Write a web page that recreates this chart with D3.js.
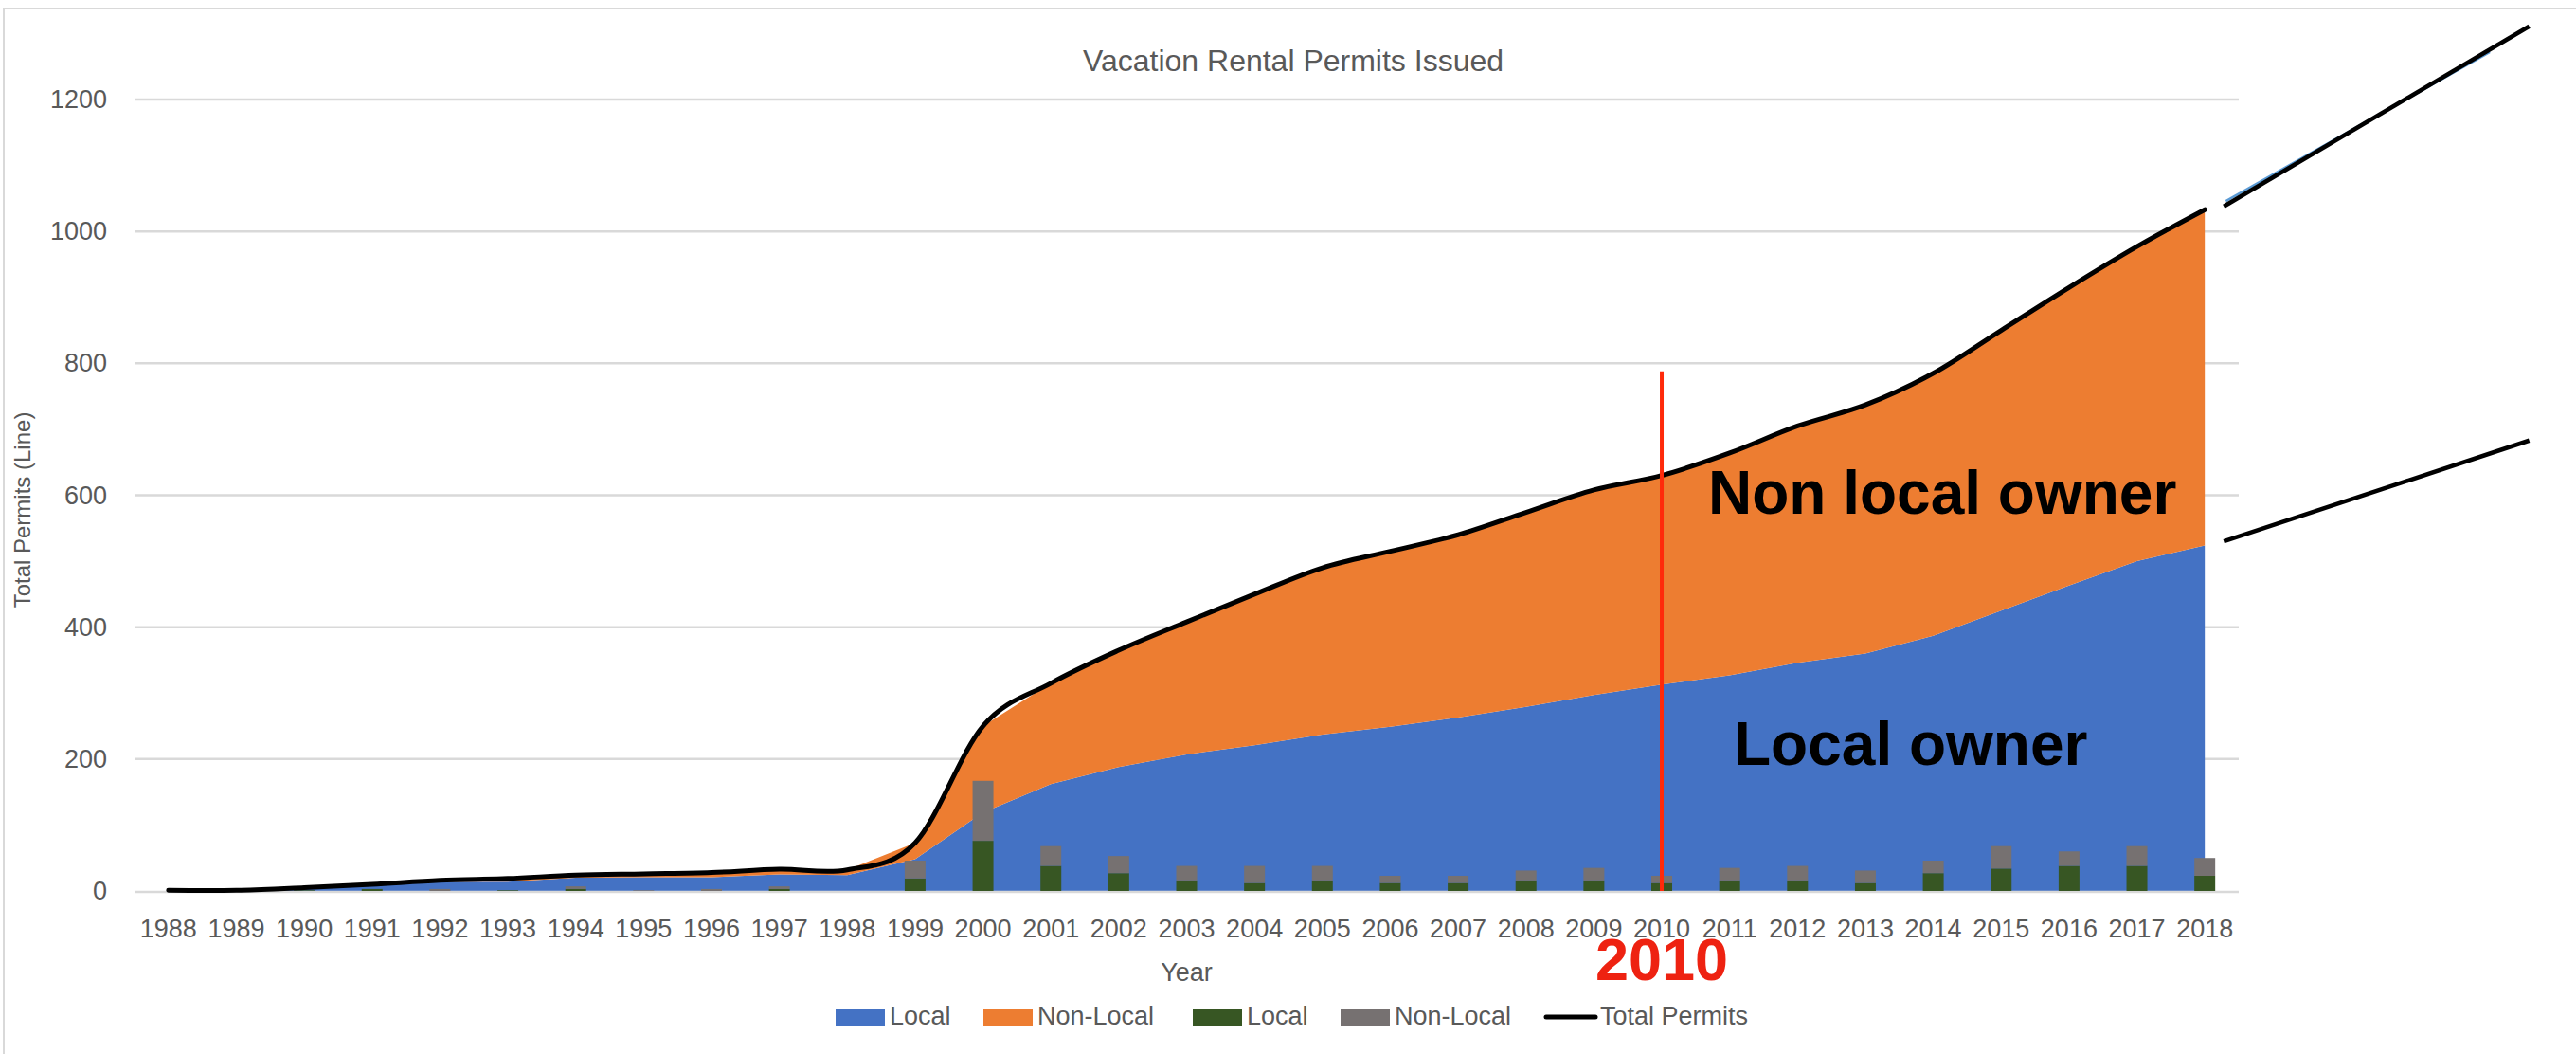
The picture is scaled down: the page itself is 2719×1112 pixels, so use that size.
<!DOCTYPE html>
<html lang="en">
<head>
<meta charset="UTF-8">
<title>Vacation Rental Permits Issued</title>
<script src="https://cdn.jsdelivr.net/npm/d3@7/dist/d3.min.js"></script>
<style>
    body{margin:0;background:#fff;}
    text{font-family:"Liberation Sans",Arial,sans-serif;}
</style>
</head>
<body>
<svg width="2719" height="1112"></svg>
<script>
    // data
    var years=['1988','1989','1990','1991','1992','1993','1994','1995','1996','1997','1998','1999','2000','2001','2002','2003',
        '2004','2005','2006','2007','2008','2009','2010','2011','2012','2013','2014','2015','2016','2017','2018'];
    // cumulative permits (areas)
    var localTotal=[0,0,4,9,14,14,20,21,21,25,24,48,119,162,188,207,221,237,249,263,279,297,313,327,346,360,387,425,463,500,524];
    var nonLocalTotal=[0,0,1,1,2,5,4,5,7,8,8,25,131,153,177,201,229,253,266,277,295,311,317,337,359,377,398,425,452,477,509];
    // total permits (line)
    var totalPermits=[1,1,5,10,16,19,24,26,28,33,32,73,250,315,365,408,450,490,515,540,574,608,630,664,705,737,785,850,915,977,1033];
    // permits issued per year (bars)
    var newLocal=[0,0,1,3,0,1,3,0,0,3,0,19,76,38,27,16,12,16,12,12,16,16,12,16,16,12,27,34,38,38,23];
    var newNonLocal=[0,0,0,0,3,0,4,1,3,4,0,27,91,30,26,22,26,22,11,11,15,19,11,19,22,19,19,34,22,30,27];
    var yTicks=[0,200,400,600,800,1000,1200];
    // projection lines drawn past the last year: [year, value] -> [year, value]
    var projections=[[[2018.28,1038],[2022.78,1311]],[[2018.28,530],[2022.78,683]]];
    var markYear='2010', markTop=788;

    var svg=d3.select('svg');
    var W=+svg.attr('width'), H=+svg.attr('height');
    var plot={left:142,right:2363,top:105,bottom:940};
    var grey='#595959';

    // chart border
    svg.append('rect').attr('x',4).attr('y',9).attr('width',W).attr('height',H)
        .attr('fill','none').attr('stroke','#d9d9d9').attr('stroke-width',2);

    var x=d3.scaleBand().domain(years).range([plot.left,plot.right]).padding(0);
    var bw=x.bandwidth();
    var cx=function(yr){return x(yr)+bw/2;};
    var xYear=d3.scaleLinear().domain([1988,2018]).range([cx('1988'),cx('2018')]);
    var y=d3.scaleLinear().domain([0,1200]).range([plot.bottom,plot.top]);

    // gridlines
    svg.append('g').selectAll('line').data(yTicks.slice(1)).enter().append('line')
        .attr('x1',plot.left).attr('x2',plot.right)
        .attr('y1',function(d){return y(d);}).attr('y2',function(d){return y(d);})
        .attr('stroke','#d9d9d9').attr('stroke-width',2.5);

    // stacked areas
    var table=years.map(function(yr,i){return {year:yr,local:localTotal[i],nonLocal:nonLocalTotal[i]};});
    var stack=d3.stack().keys(['local','nonLocal']);
    var areaColors={local:'#4472c4',nonLocal:'#ed7d31'};
    var area=d3.area()
        .x(function(d){return cx(d.data.year);})
        .y0(function(d){return y(d[0]);})
        .y1(function(d){return y(d[1]);});
    svg.append('g').selectAll('path').data(stack(table)).enter().append('path')
        .attr('d',area)
        .attr('fill',function(d){return areaColors[d.key];});

    // axis line
    svg.append('line').attr('x1',plot.left).attr('x2',plot.right)
        .attr('y1',plot.bottom+1).attr('y2',plot.bottom+1)
        .attr('stroke','#d9d9d9').attr('stroke-width',2.5);

    // stacked bars
    var barTable=years.map(function(yr,i){return {year:yr,local:newLocal[i],nonLocal:newNonLocal[i]};});
    var barColors={local:'#375623',nonLocal:'#767171'};
    var barW=22;
    svg.append('g').selectAll('g').data(stack(barTable)).enter().append('g')
        .attr('fill',function(d){return barColors[d.key];})
        .selectAll('rect').data(function(d){return d;}).enter().append('rect')
        .attr('x',function(d){return cx(d.data.year)-barW/2;})
        .attr('width',barW)
        .attr('y',function(d){return y(d[1]);})
        .attr('height',function(d){return y(d[0])-y(d[1]);});

    // total line
    var line=d3.line()
        .x(function(d,i){return cx(years[i]);})
        .y(function(d){return y(d);})
        .curve(d3.curveCardinal.tension(0));
    svg.append('path').datum(totalPermits).attr('d',line)
        .attr('fill','none').attr('stroke','#000').attr('stroke-width',5)
        .attr('stroke-linecap','round').attr('stroke-linejoin','round');

    // axes
    var yAxis=svg.append('g').attr('transform','translate('+plot.left+',0)')
        .call(d3.axisLeft(y).tickValues(yTicks).tickFormat(d3.format('d')).tickSize(0).tickPadding(29));
    yAxis.select('.domain').remove();
    yAxis.selectAll('text').attr('font-size',27).attr('fill',grey)
        .attr('font-family','"Liberation Sans",Arial,sans-serif');

    var xAxis=svg.append('g').attr('transform','translate(0,'+plot.bottom+')')
        .call(d3.axisBottom(x).tickSize(0).tickPadding(30));
    xAxis.select('.domain').remove();
    xAxis.selectAll('text').attr('font-size',27).attr('fill',grey)
        .attr('font-family','"Liberation Sans",Arial,sans-serif');

    // titles
    svg.append('text').attr('x',1365).attr('y',75).attr('text-anchor','middle')
        .attr('font-size',32).attr('fill',grey).text('Vacation Rental Permits Issued');
    svg.append('text').attr('x',(plot.left+plot.right)/2).attr('y',1035).attr('text-anchor','middle')
        .attr('font-size',27).attr('fill',grey).text('Year');
    svg.append('text').attr('transform','translate(32,538) rotate(-90)').attr('text-anchor','middle')
        .attr('font-size',24).attr('fill',grey).text('Total Permits (Line)');

    // legend
    var legend=[
        {label:'Local',color:'#4472c4',x:882},
        {label:'Non-Local',color:'#ed7d31',x:1038},
        {label:'Local',color:'#375623',x:1259},
        {label:'Non-Local',color:'#767171',x:1415},
        {label:'Total Permits',color:'#000',x:1632,line:true}
    ];
    var lg=svg.append('g').selectAll('g').data(legend).enter().append('g')
        .attr('transform',function(d){return 'translate('+d.x+',0)';});
    lg.filter(function(d){return !d.line;}).append('rect')
        .attr('y',1064).attr('width',52).attr('height',18)
        .attr('fill',function(d){return d.color;});
    lg.filter(function(d){return d.line;}).append('line')
        .attr('x1',0).attr('x2',52).attr('y1',1073).attr('y2',1073)
        .attr('stroke','#000').attr('stroke-width',5).attr('stroke-linecap','round');
    lg.append('text').attr('x',57).attr('y',1081).attr('font-size',27).attr('fill',grey)
        .text(function(d){return d.label;});

    // 2010 marker
    svg.append('line').attr('x1',cx(markYear)).attr('x2',cx(markYear))
        .attr('y1',y(markTop)).attr('y2',plot.bottom)
        .attr('stroke','#ff2a0a').attr('stroke-width',4);
    svg.append('text').attr('x',cx(markYear)).attr('y',1034).attr('text-anchor','middle')
        .attr('font-size',63).attr('font-weight','bold').attr('fill','#ee2211').text(markYear);

    // owner annotations
    svg.append('text').attr('x',1803).attr('y',542).attr('font-size',64).attr('font-weight','bold')
        .attr('fill','#000').text('Non local owner');
    svg.append('text').attr('x',1830).attr('y',807).attr('font-size',64).attr('font-weight','bold')
        .attr('fill','#000').text('Local owner');

    // projection lines
    svg.append('line').attr('x1',xYear(2018.31)).attr('y1',y(1046)).attr('x2',xYear(2022.2)).attr('y2',y(1272))
        .attr('stroke','#5b9bd5').attr('stroke-width',2.5);
    svg.append('g').selectAll('line').data(projections).enter().append('line')
        .attr('x1',function(d){return xYear(d[0][0]);}).attr('y1',function(d){return y(d[0][1]);})
        .attr('x2',function(d){return xYear(d[1][0]);}).attr('y2',function(d){return y(d[1][1]);})
        .attr('stroke','#000').attr('stroke-width',4.5);
</script>
</body>
</html>
